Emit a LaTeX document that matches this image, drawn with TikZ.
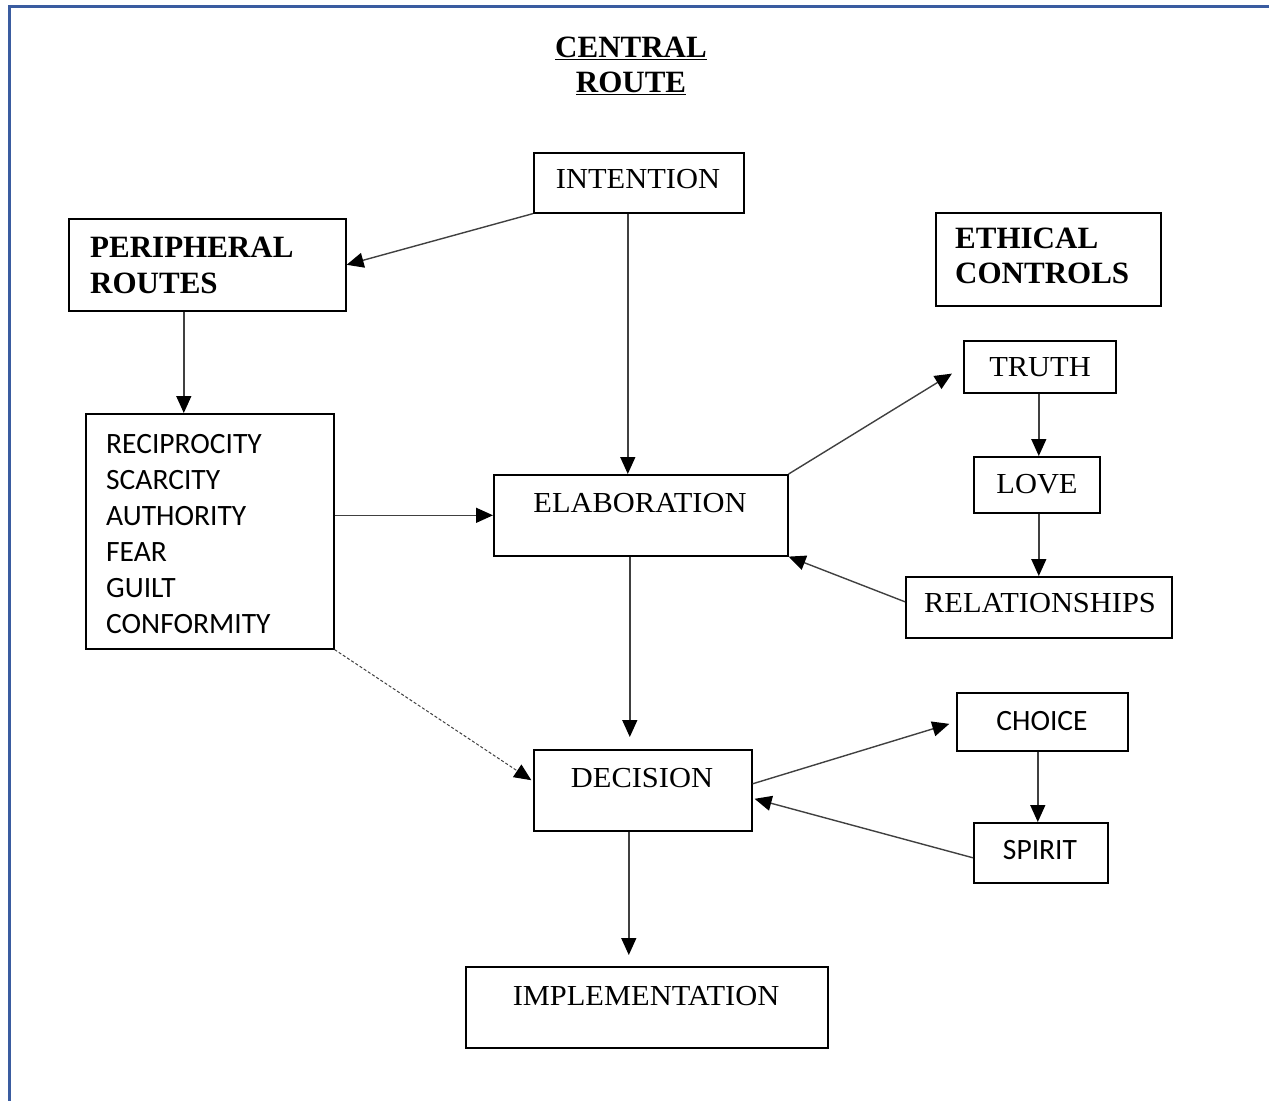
\documentclass[tikz,border=0pt]{standalone}
\usepackage{fontspec}
\setmainfont{Liberation Serif}
\newfontfamily\garam{Liberation Serif}[FakeStretch=1.05]
\newfontfamily\calib{Carlito}
\usetikzlibrary{arrows.meta}
\definecolor{framecol}{RGB}{58,92,160}
\tikzset{
  box/.style={draw=black, line width=1.6pt, inner sep=0pt, anchor=north west},
  txt/.style={inner sep=0pt, anchor=base, font=\garam\fontsize{29}{34}\selectfont},
  cal/.style={inner sep=0pt, anchor=base, font=\calib\fontsize{29.5}{34}\selectfont},
  bold/.style={inner sep=0pt, font=\bfseries\fontsize{31}{36}\selectfont},
  arr/.style={draw=black!75, line width=1.4pt, -{Triangle[length=17pt,width=15pt,fill=black,color=black]}},
}
\begin{document}
\begin{tikzpicture}[x=1pt,y=-1pt]
\useasboundingbox (0,0) rectangle (1269,1101);
\draw[framecol, line width=3pt] (1269,6.3) -- (9,6.3) -- (9,1101);

% title
\node[bold, anchor=base] (t1) at (631,57) {\underline{CENTRAL}};
\node[bold, anchor=base] (t2) at (631,92) {\underline{ROUTE}};

% boxes
\node[box, minimum width=210pt, minimum height=60pt] (intention) at (533,152) {};
\node[box, minimum width=277pt, minimum height=92pt] (periph) at (68,218) {};
\node[box, minimum width=225pt, minimum height=93pt] (ethical) at (935,212) {};
\node[box, minimum width=248pt, minimum height=235pt] (list) at (85,413) {};
\node[box, minimum width=294pt, minimum height=81pt] (elab) at (493,474) {};
\node[box, minimum width=152pt, minimum height=52pt] (truth) at (963,340) {};
\node[box, minimum width=126pt, minimum height=56pt] (love) at (973,456) {};
\node[box, minimum width=266pt, minimum height=61pt] (rel) at (905,576) {};
\node[box, minimum width=218pt, minimum height=81pt] (decision) at (533,749) {};
\node[box, minimum width=171pt, minimum height=58pt] (choice) at (956,692) {};
\node[box, minimum width=134pt, minimum height=60pt] (spirit) at (973,822) {};
\node[box, minimum width=362pt, minimum height=81pt] (impl) at (465,966) {};

% texts
\node[txt] (lIntention) at (638,188) {INTENTION};
\node[bold, anchor=base west] (lPer1) at (90,257) {PERIPHERAL};
\node[bold, anchor=base west] (lPer2) at (90,293) {ROUTES};
\node[bold, anchor=base west] (lEth1) at (955,248) {ETHICAL};
\node[bold, anchor=base west] (lEth2) at (955,283) {CONTROLS};
\foreach \w [count=\i from 0] in {RECIPROCITY,SCARCITY,AUTHORITY,FEAR,GUILT,CONFORMITY}
  \node[cal, anchor=base west] (lList\i) at (106,453+36*\i) {\w};
\node[txt] (lElab) at (640,512) {ELABORATION};
\node[txt] (lTruth) at (1040,376) {TRUTH};
\node[txt] (lLove) at (1037,493) {LOVE};
\node[txt] (lRel) at (1040,612) {RELATIONSHIPS};
\node[txt] (lDec) at (642,787) {DECISION};
\node[cal] (lChoice) at (1042,730) {CHOICE};
\node[cal] (lSpirit) at (1040,859) {SPIRIT};
\node[txt] (lImpl) at (646,1005) {IMPLEMENTATION};

% connectors
\draw[arr] (intention.south west) -- (periph.east);
\draw[arr] ([xshift=-11pt]intention.south) -- ([xshift=-13pt]elab.north);
\draw[arr] ([xshift=-23.5pt]periph.south) -- ([xshift=-23.5pt]periph.south |- list.north);
\draw[arr] (list.east |- elab.west) -- (elab.west);
\draw[arr, shorten >=13pt] (elab.north east) -- (truth.west);
\draw[arr] ([yshift=5.5pt]rel.west) -- (elab.south east);
\draw[arr] ([xshift=2pt]love.north |- truth.south) -- ([xshift=2pt]love.north);
\draw[arr] ([xshift=2pt]love.south) -- ([xshift=2pt]love.south |- rel.north);
\draw[arr, shorten >=12pt] ([xshift=-11pt]elab.south) -- ([xshift=-11pt]elab.south |- decision.north);
\draw[arr, shorten >=7pt] ([yshift=6.5pt]decision.east) -- (choice.west);
\draw[arr] ([yshift=-5pt]spirit.west) -- ([yshift=-8.5pt,xshift=2pt]decision.east);
\draw[arr] ([xshift=-3pt]spirit.north |- choice.south) -- ([xshift=-3pt]spirit.north);
\draw[arr, shorten >=11pt] ([xshift=-14pt]decision.south) -- ([xshift=-14pt]decision.south |- impl.north);
\draw[arr, dash pattern=on 3pt off 2pt, line width=1pt, shorten >=2pt] (list.south east) -- ([yshift=9pt]decision.west);
\end{tikzpicture}
\end{document}
